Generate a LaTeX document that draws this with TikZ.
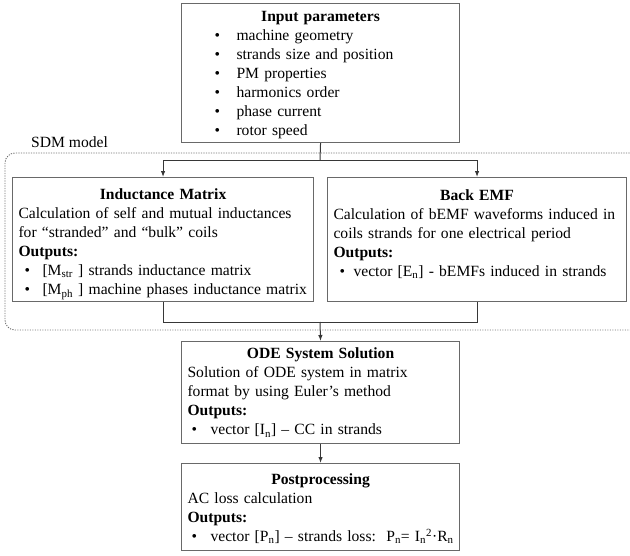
\documentclass[tikz,border=0pt]{standalone}
\usepackage{fontspec}
\setmainfont{Liberation Serif}
\usetikzlibrary{arrows.meta}
\setlength{\parindent}{0pt}
\definecolor{boxgray}{RGB}{105,105,105}
\definecolor{linegray}{RGB}{55,55,55}
\definecolor{dotgray}{RGB}{110,110,110}
\newcommand\bl[3]{\mbox{\hspace*{#1}\makebox[#2][l]{\textbullet}#3}}
\newcommand\oneline[1]{\mbox{#1}}
\begin{document}
\begin{tikzpicture}[x=1pt,y=-1pt,
  box/.style={draw=boxgray, line width=1.1pt, anchor=north west, inner xsep=6pt, inner ysep=0pt,
              align=left, font=\fontsize{15.6}{19}\selectfont, text=black},
  conn/.style={draw=linegray, line width=1pt},
  arr/.style={conn, -{Latex[length=6pt,width=4.5pt]}},
  sdmline/.style={draw=dotgray, line width=0.9pt, dash pattern=on 1.2pt off 1.3pt, rounded corners=10pt},
  lbl/.style={font=\fontsize{15.6}{19}\selectfont, anchor=base west, inner sep=0pt}
]
\useasboundingbox (0,0) rectangle (630,555);

% SDM model dotted frame
\draw[sdmline] (632,153) -- (5,153) -- (5,330) -- (632,330);
\node[lbl] (sdm) at (31,147) {SDM model};

% boxes
\node[box, text width=266pt, minimum height=139pt] (inp) at (181,3)
  {\centerline{\rule{0pt}{14.5pt}\textbf{Input parameters}}
   \bl{27pt}{22pt}{machine geometry}\\
   \bl{27pt}{22pt}{strands size and position}\\
   \bl{27pt}{22pt}{PM properties}\\
   \bl{27pt}{22pt}{harmonics order}\\
   \bl{27pt}{22pt}{phase current}\\
   \bl{27pt}{22pt}{rotor speed}};

\node[box, text width=289pt, minimum height=124pt] (im) at (12,177)
  {\centerline{\rule{0pt}{20.5pt}\textbf{Inductance Matrix}}
   \oneline{Calculation of self and mutual inductances}\\
   \oneline{for “stranded” and “bulk” coils}\\
   \textbf{Outputs:}\\
   \bl{6pt}{18pt}{[M\textsubscript{str} ] strands inductance matrix}\\
   \bl{6pt}{18pt}{[M\textsubscript{ph} ] machine phases inductance matrix}};

\node[box, text width=287pt, minimum height=124pt] (bemf) at (327,177)
  {\centerline{\rule{0pt}{20.5pt}\textbf{Back EMF}}
   \oneline{Calculation of bEMF waveforms induced in}\\
   \oneline{coils strands for one electrical period}\\
   \textbf{Outputs:}\\
   \bl{6pt}{14pt}{vector [E\textsubscript{n}] - bEMFs induced in strands}\\
   \rule[-3pt]{0pt}{3pt}};

\node[box, text width=266pt, minimum height=102pt] (ode) at (181,341)
  {\centerline{\textbf{ODE System Solution}}
   \oneline{Solution of ODE system in matrix}\\
   \oneline{format by using Euler’s method}\\
   \textbf{Outputs:}\\
   \bl{4pt}{19pt}{vector [I\textsubscript{n}] – CC in strands}};

\node[box, text width=266pt, minimum height=87pt] (post) at (181,463)
  {\centerline{\rule{0pt}{13.5pt}\textbf{Postprocessing}}
   \oneline{AC loss calculation}\\
   \textbf{Outputs:}\\
   \bl{4pt}{19pt}{vector [P\textsubscript{n}] – strands loss:\ \ P\textsubscript{n}= I\textsubscript{n}\textsuperscript{2}·R\textsubscript{n}}};

% connectors
\coordinate (br) at (320,160);
\coordinate (jn) at (320,322);
\draw[conn] (inp.south) -- (br);
\draw[arr] (br) -| (im.north);
\draw[arr] (br) -| (bemf.north);
\draw[conn] (im.south) |- (jn);
\draw[conn] (bemf.south) |- (jn);
\draw[arr] (jn) -- (ode.north);
\draw[arr] (ode.south) -- (post.north);
\end{tikzpicture}
\end{document}
